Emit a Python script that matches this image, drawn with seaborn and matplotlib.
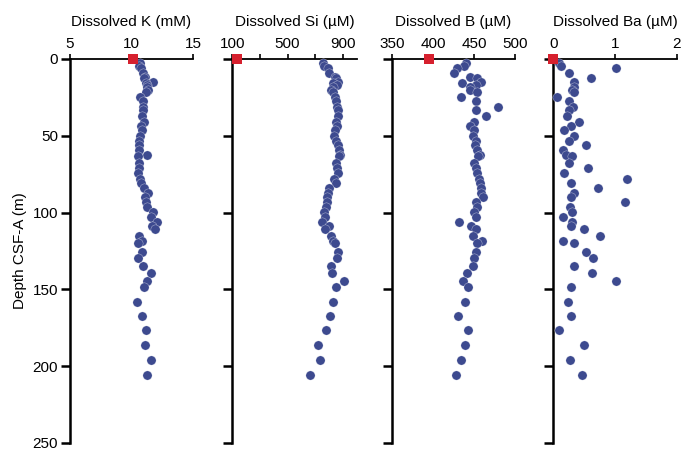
import numpy as np
import pandas as pd
import seaborn as sns
import matplotlib.pyplot as plt

# depth of each pore-water sample (m CSF-A)
depth = [2.5, 4.5, 6, 9, 12, 12.5, 15, 15.5, 17, 18, 20.5, 21.5, 24.5, 27.2, 31, 33.5,
         37, 40.7, 43.5, 46.2, 50, 53.5, 56, 59.5, 62.5, 63, 68, 71.2, 74.2, 77.8, 80.5,
         83.8, 87, 90, 93, 96.2, 99.8, 103, 106, 108.7, 111, 115, 118.3, 120, 125.5,
         129.4, 134.6, 139, 144.3, 148.6, 158, 167.5, 176.6, 186.2, 196.2, 205.5]

k_mM = [10.7, 10.6, 10.8, 10.95, 11.1, 11.0, 11.76, 11.2, 11.3, 11.28, 11.36, 11.2, 10.68,
        10.95, 10.9, 10.95, 10.82, 11.0, 10.76, 10.82, 10.68, 10.65, 10.62, 10.6, 11.3,
        10.55, 10.6, 10.58, 10.55, 10.7, 10.76, 11.0, 11.36, 11.09, 11.2, 11.3, 11.76,
        11.6, 12.05, 11.7, 11.9, 10.6, 10.88, 10.55, 10.88, 10.55, 10.9, 11.55, 11.23,
        11.0, 10.45, 10.83, 11.15, 11.1, 11.6, 11.3]

si_uM = [754, 767, 790, 802, 840, 851, 867, 830, 860, 826, 815, 830, 840, 851, 860, 867,
         862, 851, 858, 843, 838, 850, 868, 874, 882, 870, 851, 858, 862, 838, 851, 800,
         790, 786, 786, 779, 767, 770, 747, 802, 774, 815, 826, 846, 867, 860, 815, 822,
         908, 848, 826, 810, 779, 723, 731, 659]

b_uM = [440, 438, 429.5, 425.5, 445, 454, 458.4, 434.8, 453, 445, 445, 454, 433.6, 453,
        479.4, 453, 464.4, 449.8, 445, 449.8, 448.2, 452.3, 451.4, 453.9, 457.1, 455,
        449.8, 452.3, 453.9, 456.3, 457.1, 458, 458, 460.4, 452.3, 453.9, 449.8, 452,
        431.6, 446, 453, 449, 460, 454, 452, 450, 449, 441, 437, 443, 439, 431, 443,
        439, 434, 428]

ba_uM = [0.10, 0.12, 1.02, 0.26, np.nan, 0.61, 0.34, np.nan, np.nan, 0.33, 0.30, 0.33,
         0.06, 0.26, 0.32, 0.26, 0.23, 0.42, 0.28, 0.18, 0.33, 0.26, 0.53, 0.16, 0.20,
         0.30, 0.26, 0.57, 0.18, 1.20, 0.28, 0.72, 0.33, 0.28, 1.17, 0.27, 0.30, 0.16,
         0.30, 0.29, 0.50, 0.75, 0.16, 0.34, 0.53, 0.64, 0.34, 0.62, 1.02, 0.28, 0.24,
         0.28, 0.09, 0.49, 0.27, 0.47]

# seawater reference values (plotted at 0 m)
seawater = {"K": 10.1, "Si": 136, "B": 395, "Ba": 0.0}

panels = [
    ("K", k_mM, "Dissolved K (mM)", (5, 15), [5, 10, 15], ["5", "10", "15"]),
    ("Si", si_uM, "Dissolved Si (\u00b5M)", (100, 1000), [100, 300, 500, 700, 900],
     ["100", "", "500", "", "900"]),
    ("B", b_uM, "Dissolved B (\u00b5M)", (350, 500), [350, 400, 450, 500],
     ["350", "400", "450", "500"]),
    ("Ba", ba_uM, "Dissolved Ba (\u00b5M)", (0, 2), [0, 1, 2], ["0", "1", "2"]),
]

sns.set_style("ticks")
plt.rcParams["font.family"] = ["Liberation Sans", "DejaVu Sans"]
plt.rcParams["font.size"] = 11
for key in ["axes.edgecolor", "text.color", "axes.labelcolor", "xtick.color", "ytick.color"]:
    plt.rcParams[key] = "black"

blue = "#3d4a8f"
red = "#d6202e"

fig = plt.figure(figsize=(6.83, 4.49), dpi=100)
lefts = [70, 232.3, 392, 553.3]
widths = [123, 124.4, 123, 123.4]

for i, (key, vals, title, xlim, ticks, labels) in enumerate(panels):
    ax = fig.add_axes([lefts[i] / 683, 1 - 443 / 449, widths[i] / 683, 384 / 449])
    df = pd.DataFrame({"depth": depth, "value": vals})
    sns.scatterplot(data=df, x="value", y="depth", ax=ax, color=blue, s=44,
                    edgecolor="white", linewidth=0.2, zorder=3, clip_on=False)
    ax.scatter([seawater[key]], [0], marker="s", s=48, color=red, zorder=5, clip_on=False,
               linewidths=0)
    ax.set_xlim(*xlim)
    ax.set_ylim(250, 0)
    ax.xaxis.tick_top()
    ax.xaxis.set_label_position("top")
    ax.set_xticks(ticks)
    ax.set_xticklabels(labels)
    ax.set_xlabel(title, labelpad=8)
    ax.set_yticks([0, 50, 100, 150, 200, 250])
    for s in ["right", "bottom"]:
        ax.spines[s].set_visible(False)
    ax.spines["left"].set_linewidth(1.8)
    ax.spines["top"].set_linewidth(1.3)
    ax.tick_params(axis="x", direction="out", length=3.5, width=1.2, pad=2, labelsize=11)
    ax.tick_params(axis="y", direction="out", length=6.5, width=1.8, pad=2, labelsize=11)
    if i == 0:
        ax.set_ylabel("Depth CSF-A (m)", labelpad=4)
    else:
        ax.set_yticklabels([])
        ax.set_ylabel("")

fig.savefig("out.png", dpi=100)
